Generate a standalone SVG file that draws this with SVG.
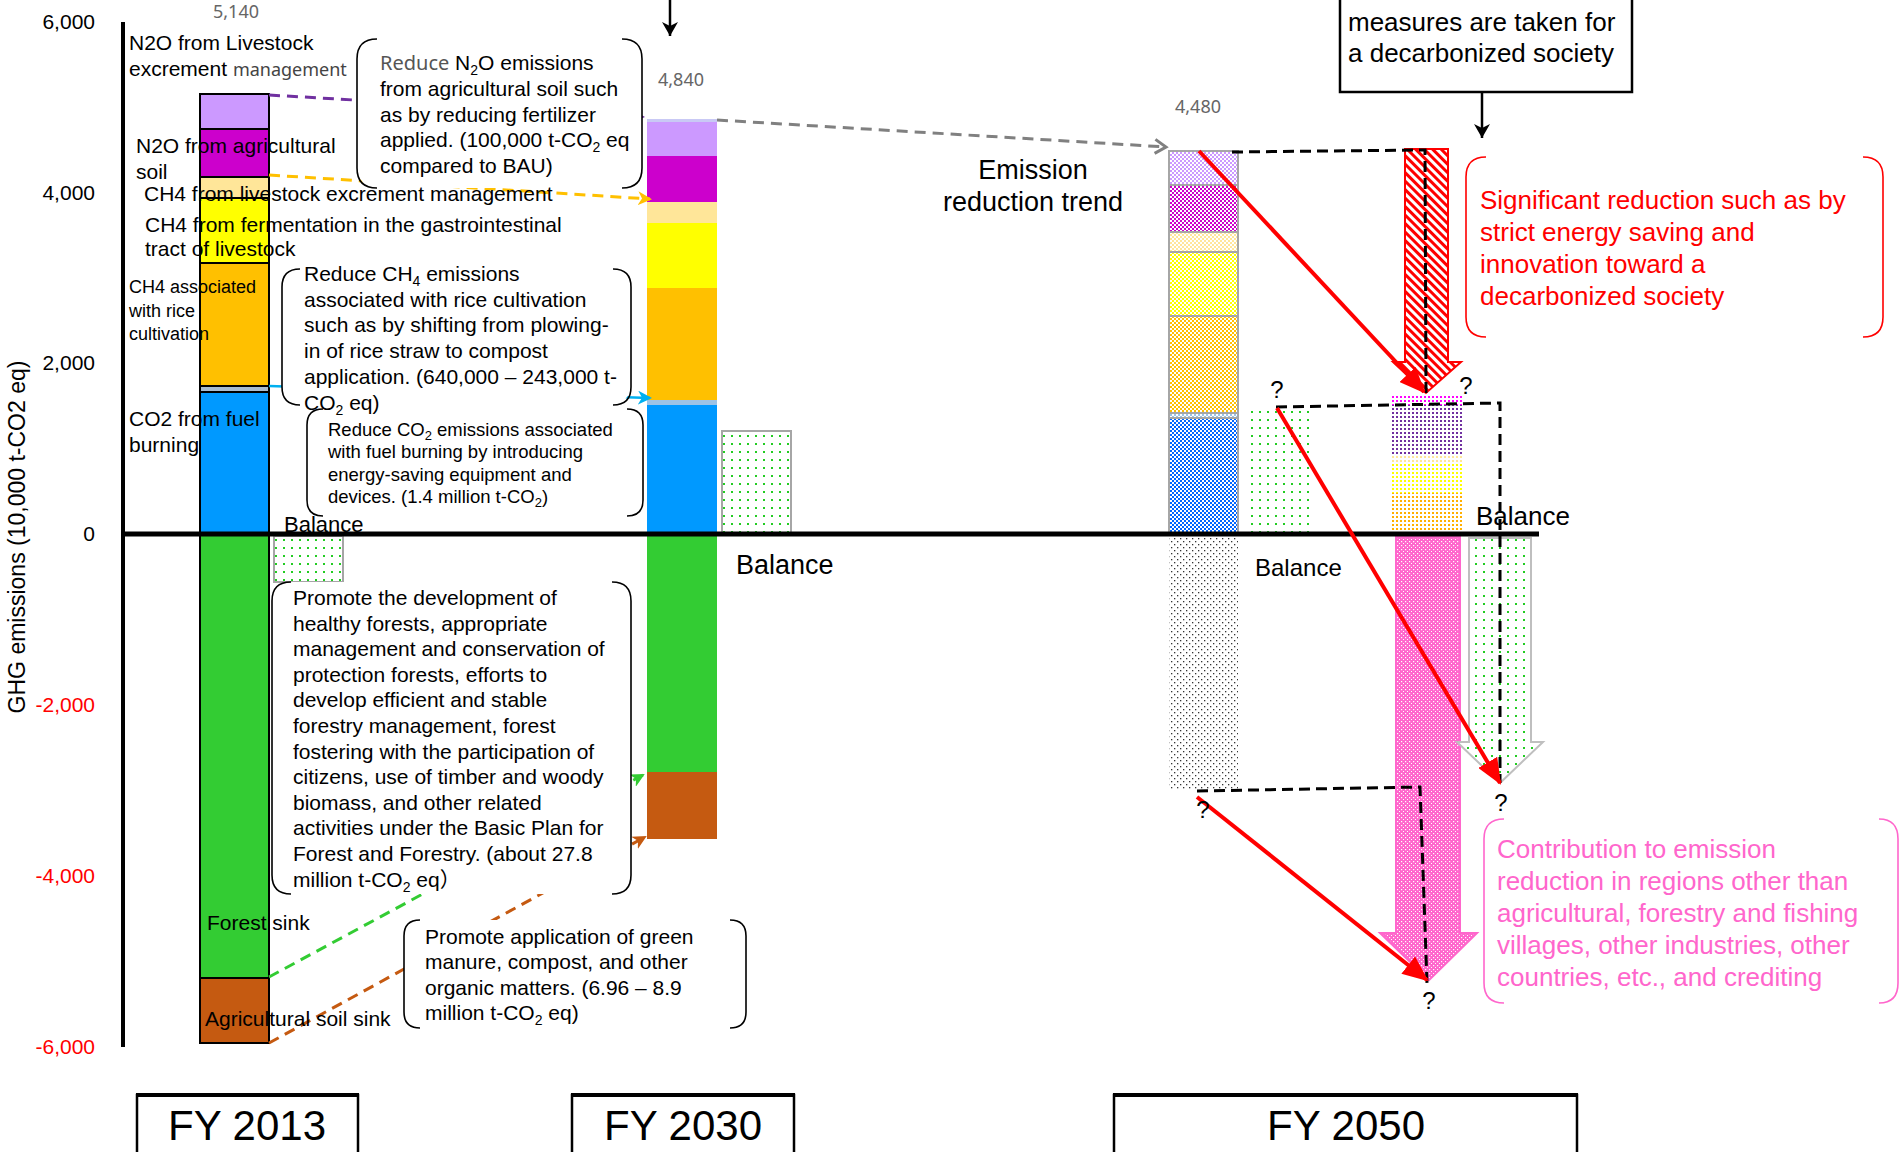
<svg xmlns="http://www.w3.org/2000/svg" width="1901" height="1152" viewBox="0 0 1901 1152">
<style>
text{font-family:"Liberation Sans",Arial,"Noto Sans CJK JP",sans-serif;fill:#000}
.lbl{font-size:21px}
.sm{font-size:18px}
.co{font-size:21px}
.co2{font-size:18.5px}
.tick{font-size:21px;text-anchor:end}
.neg{fill:#FF0000}
.num{font-size:18px;fill:#666;text-anchor:middle;font-family:"Noto Sans","Liberation Sans",sans-serif}
.big{font-size:26px}
.red{fill:#FF0000;font-size:26px}
.pink{fill:#FF66CC;font-size:26px}
.q{font-size:24px;text-anchor:middle}
.fy{font-size:42px;text-anchor:middle}
.br{fill:none;stroke:#000;stroke-width:1.6}
.cobg{fill:#fff;stroke:none}
.seg13{stroke:#000;stroke-width:2}
.seg50{stroke:#A6A6A6;stroke-width:2}
.dash{fill:none;stroke-width:3;stroke-dasharray:11 7}
.bdash{fill:none;stroke:#000;stroke-width:3;stroke-dasharray:11 6}
.redarr{fill:none;stroke:#FF0000;stroke-width:4}
</style>
<defs>
<pattern id="gdots" width="8" height="8" patternUnits="userSpaceOnUse"><rect width="8" height="8" fill="#fff"/><rect x="3" y="3" width="2" height="2" fill="#22CC22"/></pattern>
<pattern id="kdots" width="6" height="6" patternUnits="userSpaceOnUse"><rect width="6" height="6" fill="#fff"/><rect x="1" y="1" width="1.3" height="1.3" fill="#333"/><rect x="4" y="4" width="1.3" height="1.3" fill="#333"/></pattern>
<pattern id="pinkdots" width="4" height="4" patternUnits="userSpaceOnUse"><rect width="4" height="4" fill="#FF66CC"/><rect x="1" y="1" width="1.2" height="1.2" fill="#fff"/><rect x="3" y="3" width="1.2" height="1.2" fill="#fff"/></pattern>
<pattern id="hatch" width="6" height="6" patternUnits="userSpaceOnUse" patternTransform="rotate(-45)"><rect width="6" height="6" fill="#fff"/><rect width="3" height="6" fill="#FF0000"/></pattern>
<pattern id="c-pur" width="4" height="4" patternUnits="userSpaceOnUse"><rect width="4" height="4" fill="#fff"/><rect width="2" height="2" fill="#CC99FF"/><rect x="2" y="2" width="2" height="2" fill="#CC99FF"/></pattern>
<pattern id="c-mag" width="4" height="4" patternUnits="userSpaceOnUse"><rect width="4" height="4" fill="#fff"/><rect width="2" height="2" fill="#CC00CC"/><rect x="2" y="2" width="2" height="2" fill="#CC00CC"/></pattern>
<pattern id="c-tan" width="4" height="4" patternUnits="userSpaceOnUse"><rect width="4" height="4" fill="#fff"/><rect width="2" height="2" fill="#FFE699"/><rect x="2" y="2" width="2" height="2" fill="#FFE699"/></pattern>
<pattern id="c-yel" width="4" height="4" patternUnits="userSpaceOnUse"><rect width="4" height="4" fill="#fff"/><rect width="2" height="2" fill="#FFFF00"/><rect x="2" y="2" width="2" height="2" fill="#FFFF00"/></pattern>
<pattern id="c-ora" width="4" height="4" patternUnits="userSpaceOnUse"><rect width="4" height="4" fill="#fff"/><rect width="2" height="2" fill="#FFC000"/><rect x="2" y="2" width="2" height="2" fill="#FFC000"/></pattern>
<pattern id="c-lb" width="4" height="4" patternUnits="userSpaceOnUse"><rect width="4" height="4" fill="#fff"/><rect width="2" height="2" fill="#9DC3E6"/><rect x="2" y="2" width="2" height="2" fill="#9DC3E6"/></pattern>
<pattern id="c-blu" width="4" height="4" patternUnits="userSpaceOnUse"><rect width="4" height="4" fill="#fff"/><rect width="2" height="2" fill="#0066FF"/><rect x="2" y="2" width="2" height="2" fill="#0066FF"/></pattern>
<pattern id="d-mag" width="4" height="4" patternUnits="userSpaceOnUse"><rect width="4" height="4" fill="#fff"/><rect width="2" height="2" fill="#FF00FF"/></pattern>
<pattern id="d-pur" width="4" height="4" patternUnits="userSpaceOnUse"><rect width="4" height="4" fill="#fff"/><rect width="2" height="2" fill="#7030A0"/></pattern>
<pattern id="d-tan" width="4" height="4" patternUnits="userSpaceOnUse"><rect width="4" height="4" fill="#fff"/><rect width="2" height="2" fill="#FFE699"/></pattern>
<pattern id="d-yel" width="4" height="4" patternUnits="userSpaceOnUse"><rect width="4" height="4" fill="#fff"/><rect width="2" height="2" fill="#FFFF00"/></pattern>
<pattern id="d-ora" width="4" height="4" patternUnits="userSpaceOnUse"><rect width="4" height="4" fill="#fff"/><rect width="2" height="2" fill="#FFB000"/></pattern>
<marker id="m-pur" markerWidth="12" markerHeight="12" refX="10" refY="6" orient="auto" markerUnits="userSpaceOnUse"><path d="M0,0 L12,6 L0,12 L3,6 z" fill="#7030A0"/></marker>
<marker id="m-ora" markerWidth="14" markerHeight="14" refX="12" refY="7" orient="auto" markerUnits="userSpaceOnUse"><path d="M0,0 L14,7 L0,14 L4,7 z" fill="#FFC000"/></marker>
<marker id="m-cy" markerWidth="14" markerHeight="14" refX="12" refY="7" orient="auto" markerUnits="userSpaceOnUse"><path d="M0,0 L14,7 L0,14 L4,7 z" fill="#00B0F0"/></marker>
<marker id="m-grn" markerWidth="14" markerHeight="14" refX="12" refY="7" orient="auto" markerUnits="userSpaceOnUse"><path d="M0,0 L14,7 L0,14 L4,7 z" fill="#33CC33"/></marker>
<marker id="m-brn" markerWidth="14" markerHeight="14" refX="12" refY="7" orient="auto" markerUnits="userSpaceOnUse"><path d="M0,0 L14,7 L0,14 L4,7 z" fill="#C55A11"/></marker>
<marker id="m-gray" markerWidth="16" markerHeight="18" refX="13" refY="9" orient="auto" markerUnits="userSpaceOnUse"><path d="M2,2 L13,9 L2,16" fill="none" stroke="#808080" stroke-width="3"/></marker>
<marker id="m-blk" markerWidth="16" markerHeight="18" refX="14" refY="9" orient="auto" markerUnits="userSpaceOnUse"><path d="M0,1 L14,9 L0,17 L4,9 z" fill="#000"/></marker>
<marker id="m-red" markerWidth="26" markerHeight="22" refX="24" refY="11" orient="auto" markerUnits="userSpaceOnUse"><path d="M0,0 L26,11 L0,22 z" fill="#FF0000"/></marker>
</defs>
<rect width="1901" height="1152" fill="#fff"/>

<g id="axis">
<line x1="123" y1="22" x2="123" y2="1047" stroke="#000" stroke-width="4"/>
<text class="tick" x="95" y="29">6,000</text>
<text class="tick" x="95" y="200">4,000</text>
<text class="tick" x="95" y="370">2,000</text>
<text class="tick" x="95" y="541">0</text>
<text class="tick neg" x="95" y="712">-2,000</text>
<text class="tick neg" x="95" y="883">-4,000</text>
<text class="tick neg" x="95" y="1054">-6,000</text>
<text x="25" y="537" font-size="23" text-anchor="middle" transform="rotate(-90 25 537)">GHG emissions (10,000 t-CO2 eq)</text>
</g>

<g id="bar-2013">
<rect class="seg13" x="200" y="94" width="69" height="35" fill="#CC99FF"/>
<rect class="seg13" x="200" y="129" width="69" height="48" fill="#CC00CC"/>
<rect class="seg13" x="200" y="177" width="69" height="21" fill="#FFE699"/>
<rect class="seg13" x="200" y="198" width="69" height="65" fill="#FFFF00"/>
<rect class="seg13" x="200" y="263" width="69" height="123" fill="#FFC000"/>
<rect class="seg13" x="200" y="386" width="69" height="6" fill="#A9BCD0"/>
<rect class="seg13" x="200" y="392" width="69" height="142" fill="#0099FF"/>
<rect class="seg13" x="200" y="534" width="69" height="444" fill="#33CC33"/>
<rect class="seg13" x="200" y="978" width="69" height="65" fill="#C55A11"/>
<text class="num" x="236" y="18">5,140</text>
</g>

<g id="balance-2013">
<rect x="274" y="536" width="69" height="46" fill="url(#gdots)" stroke="#A6A6A6" stroke-width="2"/>
</g>

<g id="bar-2030">
<rect x="647" y="119" width="70" height="3" fill="#C9C9F5"/>
<rect x="647" y="122" width="70" height="34" fill="#CC99FF"/>
<rect x="647" y="156" width="70" height="46" fill="#CC00CC"/>
<rect x="647" y="202" width="70" height="21" fill="#FFE699"/>
<rect x="647" y="223" width="70" height="65" fill="#FFFF00"/>
<rect x="647" y="288" width="70" height="112" fill="#FFC000"/>
<rect x="647" y="400" width="70" height="5" fill="#9DC3E6"/>
<rect x="647" y="405" width="70" height="129" fill="#0099FF"/>
<rect x="647" y="534" width="70" height="238" fill="#33CC33"/>
<rect x="647" y="772" width="70" height="67" fill="#C55A11"/>
<text class="num" x="681" y="86">4,840</text>
</g>

<g id="balance-2030">
<rect x="722" y="431" width="69" height="103" fill="url(#gdots)" stroke="#A6A6A6" stroke-width="2"/>
</g>

<g id="bar-2050">
<rect class="seg50" x="1169" y="151" width="69" height="34" fill="url(#c-pur)"/>
<rect class="seg50" x="1169" y="185" width="69" height="47" fill="url(#c-mag)"/>
<rect class="seg50" x="1169" y="232" width="69" height="20" fill="url(#c-tan)"/>
<rect class="seg50" x="1169" y="252" width="69" height="64" fill="url(#c-yel)"/>
<rect class="seg50" x="1169" y="316" width="69" height="97" fill="url(#c-ora)"/>
<rect class="seg50" x="1169" y="413" width="69" height="5" fill="url(#c-lb)"/>
<rect class="seg50" x="1169" y="418" width="69" height="116" fill="url(#c-blu)"/>
<rect x="1169" y="537" width="69" height="253" fill="url(#kdots)"/>
<text class="num" x="1198" y="113">4,480</text>
</g>

<g id="balance-2050-left">
<rect x="1248" y="406" width="64" height="128" fill="url(#gdots)"/>
</g>

<g id="reduced-2050">
<rect x="1392" y="395" width="71" height="10" fill="url(#d-mag)"/>
<rect x="1392" y="405" width="71" height="50" fill="url(#d-pur)"/>
<rect x="1392" y="455" width="71" height="7" fill="url(#d-tan)"/>
<rect x="1392" y="462" width="71" height="31" fill="url(#d-yel)"/>
<rect x="1392" y="493" width="71" height="39" fill="url(#d-ora)"/>
</g>

<g id="red-arrow">
<path d="M1405,149 L1448,149 L1448,362 L1461,362 L1426,393 L1393,362 L1405,362 Z" fill="url(#hatch)" stroke="#FF0000" stroke-width="2"/>
</g>

<g id="pink-arrow">
<path d="M1396,537 L1460,537 L1460,933 L1477,933 L1429,980 L1380,933 L1396,933 Z" fill="url(#pinkdots)" stroke="#FF66CC" stroke-width="2"/>
</g>

<g id="green-arrow">
<path d="M1469,538 L1531,538 L1531,742 L1543,742 L1500,783 L1457,742 L1469,742 Z" fill="url(#gdots)" stroke="#BFBFBF" stroke-width="2"/>
</g>

<g id="zero-line">
<line x1="121" y1="534" x2="1539" y2="534" stroke="#000" stroke-width="5"/>
</g>

<g id="connectors">
<line class="dash" x1="269" y1="95" x2="643" y2="117" stroke="#7030A0" marker-end="url(#m-pur)"/>
<line class="dash" x1="269" y1="175" x2="650" y2="199" stroke="#FFC000" marker-end="url(#m-ora)"/>
<line x1="269" y1="386" x2="650" y2="398" stroke="#00B0F0" stroke-width="2.5" marker-end="url(#m-cy)"/>
<line class="dash" x1="269" y1="977" x2="643" y2="775" stroke="#33CC33" marker-end="url(#m-grn)"/>
<line class="dash" x1="269" y1="1043" x2="645" y2="837" stroke="#C55A11" marker-end="url(#m-brn)"/>
<line class="dash" x1="717" y1="120" x2="1166" y2="147" stroke="#808080" marker-end="url(#m-gray)"/>
<line x1="670" y1="0" x2="670" y2="36" stroke="#000" stroke-width="2.5" marker-end="url(#m-blk)"/>
<line x1="1482" y1="92" x2="1482" y2="138" stroke="#000" stroke-width="2.5" marker-end="url(#m-blk)"/>
<polyline class="bdash" points="1232,152 1425,150 1426,393"/>
<polyline class="bdash" points="1276,407 1500,403 1500,783"/>
<polyline class="bdash" points="1197,791 1420,787 1427,983"/>
<line class="redarr" x1="1199" y1="151" x2="1424" y2="392" marker-end="url(#m-red)"/>
<line class="redarr" x1="1277" y1="408" x2="1500" y2="783" marker-end="url(#m-red)"/>
<line class="redarr" x1="1197" y1="797" x2="1427" y2="980" marker-end="url(#m-red)"/>
</g>

<g id="callout-n2o">
<rect class="cobg" x="357" y="39" width="285" height="149" rx="20"/>
<path class="br" d="M377,39 Q357,39 357,59 L357,168 Q357,188 377,188"/>
<path class="br" d="M622,39 Q642,39 642,59 L642,168 Q642,188 622,188"/>
<text class="co" x="380" y="70"><tspan fill="#555" font-family="Noto Sans, Liberation Sans, sans-serif" font-size="20">Reduce</tspan> N<tspan dy="5" font-size="14">2</tspan><tspan dy="-5">O emissions</tspan></text>
<text class="co" x="380" y="96">from agricultural soil such</text>
<text class="co" x="380" y="122">as by reducing fertilizer</text>
<text class="co" x="380" y="147">applied. (100,000 t-CO<tspan dy="5" font-size="14">2</tspan><tspan dy="-5"> eq</tspan></text>
<text class="co" x="380" y="173">compared to BAU)</text>
</g>

<g id="callout-co2">
<rect class="cobg" x="307" y="409" width="336" height="107" rx="16"/>
<path class="br" d="M323,409 Q307,409 307,425 L307,500 Q307,516 323,516"/>
<path class="br" d="M627,409 Q643,409 643,425 L643,500 Q643,516 627,516"/>
<text class="co2" x="328" y="436">Reduce CO<tspan dy="4" font-size="13">2</tspan><tspan dy="-4"> emissions associated</tspan></text>
<text class="co2" x="328" y="458">with fuel burning by introducing</text>
<text class="co2" x="328" y="481">energy-saving equipment and</text>
<text class="co2" x="328" y="503">devices. (1.4 million t-CO<tspan dy="4" font-size="13">2</tspan><tspan dy="-4">)</tspan></text>
</g>

<g id="callout-ch4">
<rect class="cobg" x="282" y="269" width="349" height="136" rx="20"/>
<path class="br" d="M300,269 Q282,269 282,287 L282,387 Q282,405 300,405"/>
<path class="br" d="M613,269 Q631,269 631,287 L631,387 Q631,405 613,405"/>
<text class="co" x="304" y="281">Reduce CH<tspan dy="5" font-size="14">4</tspan><tspan dy="-5"> emissions</tspan></text>
<text class="co" x="304" y="307">associated with rice cultivation</text>
<text class="co" x="304" y="332">such as by shifting from plowing-</text>
<text class="co" x="304" y="358">in of rice straw to compost</text>
<text class="co" x="304" y="384">application. (640,000 – 243,000 t-</text>
<text class="co" x="304" y="410">CO<tspan dy="5" font-size="14">2</tspan><tspan dy="-5"> eq)</tspan></text>
</g>

<g id="callout-forest">
<rect class="cobg" x="272" y="582" width="359" height="312" rx="20"/>
<path class="br" d="M291,582 Q272,582 272,601 L272,875 Q272,894 291,894"/>
<path class="br" d="M612,582 Q631,582 631,601 L631,875 Q631,894 612,894"/>
<text class="co" x="293" y="605">Promote the development of</text>
<text class="co" x="293" y="631">healthy forests, appropriate</text>
<text class="co" x="293" y="656">management and conservation of</text>
<text class="co" x="293" y="682">protection forests, efforts to</text>
<text class="co" x="293" y="707">develop efficient and stable</text>
<text class="co" x="293" y="733">forestry management, forest</text>
<text class="co" x="293" y="759">fostering with the participation of</text>
<text class="co" x="293" y="784">citizens, use of timber and woody</text>
<text class="co" x="293" y="810">biomass, and other related</text>
<text class="co" x="293" y="835">activities under the Basic Plan for</text>
<text class="co" x="293" y="861">Forest and Forestry. (about 27.8</text>
<text class="co" x="293" y="887">million t-CO<tspan dy="5" font-size="14">2</tspan><tspan dy="-5"> eq）</tspan></text>
</g>

<g id="callout-agri">
<rect class="cobg" x="404" y="920" width="342" height="108" rx="16"/>
<path class="br" d="M420,920 Q404,920 404,936 L404,1012 Q404,1028 420,1028"/>
<path class="br" d="M730,920 Q746,920 746,936 L746,1012 Q746,1028 730,1028"/>
<text class="co" x="425" y="944">Promote application of green</text>
<text class="co" x="425" y="969">manure, compost, and other</text>
<text class="co" x="425" y="995">organic matters. (6.96 – 8.9</text>
<text class="co" x="425" y="1020">million t-CO<tspan dy="5" font-size="14">2</tspan><tspan dy="-5"> eq)</tspan></text>
</g>

<g id="labels-2013">
<text class="lbl" x="129" y="50">N2O from Livestock</text>
<text class="lbl" x="129" y="76">excrement <tspan fill="#444" font-family="Noto Sans, Liberation Sans, sans-serif" font-size="18">management</tspan></text>
<text class="lbl" x="136" y="153">N2O from agricultural</text>
<text class="lbl" x="136" y="179">soil</text>
<text class="lbl" x="144" y="201">CH4 from livestock excrement management</text>
<text class="lbl" x="145" y="232">CH4 from fermentation in the gastrointestinal</text>
<text class="lbl" x="145" y="256">tract of livestock</text>
<text class="sm" x="129" y="293">CH4 associated</text>
<text class="sm" x="129" y="317">with rice</text>
<text class="sm" x="129" y="340">cultivation</text>
<text class="lbl" x="129" y="426">CO2 from fuel</text>
<text class="lbl" x="129" y="452">burning</text>
<text class="lbl" x="207" y="930">Forest sink</text>
<text class="lbl" x="205" y="1026">Agricultural soil sink</text>
<text x="284" y="532" font-size="22">Balance</text>
</g>

<g id="labels-2030">
<text x="736" y="574" font-size="27">Balance</text>
<text x="1033" y="179" font-size="27" text-anchor="middle">Emission</text>
<text x="1033" y="211" font-size="27" text-anchor="middle">reduction trend</text>
</g>

<g id="top-box">
<rect x="1340" y="-5" width="292" height="97" fill="#fff" stroke="#000" stroke-width="2.5"/>
<text class="big" x="1348" y="31">measures are taken for</text>
<text class="big" x="1348" y="62">a decarbonized society</text>
</g>

<g id="labels-2050">
<text x="1255" y="576" font-size="24">Balance</text>
<text x="1476" y="525" font-size="26">Balance</text>
<text class="q" x="1277" y="398">?</text>
<text class="q" x="1466" y="394">?</text>
<text class="q" x="1501" y="811">?</text>
<text class="q" x="1203" y="818">?</text>
<text class="q" x="1429" y="1009">?</text>
</g>

<g id="note-red">
<path d="M1486,157 Q1466,157 1466,177 L1466,317 Q1466,337 1486,337" fill="none" stroke="#FF0000" stroke-width="1.6"/>
<path d="M1863,157 Q1883,157 1883,177 L1883,317 Q1883,337 1863,337" fill="none" stroke="#FF0000" stroke-width="1.6"/>
<text class="red" x="1480" y="209">Significant reduction such as by</text>
<text class="red" x="1480" y="241">strict energy saving and</text>
<text class="red" x="1480" y="273">innovation toward a</text>
<text class="red" x="1480" y="305">decarbonized society</text>
</g>

<g id="note-pink">
<path d="M1504,819 Q1484,819 1484,839 L1484,983 Q1484,1003 1504,1003" fill="none" stroke="#FF66CC" stroke-width="1.6"/>
<path d="M1879,819 Q1898,819 1898,839 L1898,983 Q1898,1003 1879,1003" fill="none" stroke="#FF66CC" stroke-width="1.6"/>
<text class="pink" x="1497" y="858">Contribution to emission</text>
<text class="pink" x="1497" y="890">reduction in regions other than</text>
<text class="pink" x="1497" y="922">agricultural, forestry and fishing</text>
<text class="pink" x="1497" y="954">villages, other industries, other</text>
<text class="pink" x="1497" y="986">countries, etc., and crediting</text>
</g>

<g id="fy-2013">
<rect x="137" y="1095" width="221" height="70" fill="#fff" stroke="#000" stroke-width="2.5"/>
<line x1="136" y1="1095" x2="359" y2="1095" stroke="#000" stroke-width="4"/>
<text class="fy" x="247" y="1140">FY 2013</text>
</g>
<g id="fy-2030">
<rect x="572" y="1095" width="222" height="70" fill="#fff" stroke="#000" stroke-width="2.5"/>
<line x1="571" y1="1095" x2="795" y2="1095" stroke="#000" stroke-width="4"/>
<text class="fy" x="683" y="1140">FY 2030</text>
</g>
<g id="fy-2050">
<rect x="1114" y="1095" width="463" height="70" fill="#fff" stroke="#000" stroke-width="2.5"/>
<line x1="1113" y1="1095" x2="1578" y2="1095" stroke="#000" stroke-width="4"/>
<text class="fy" x="1346" y="1140">FY 2050</text>
</g>
</svg>
